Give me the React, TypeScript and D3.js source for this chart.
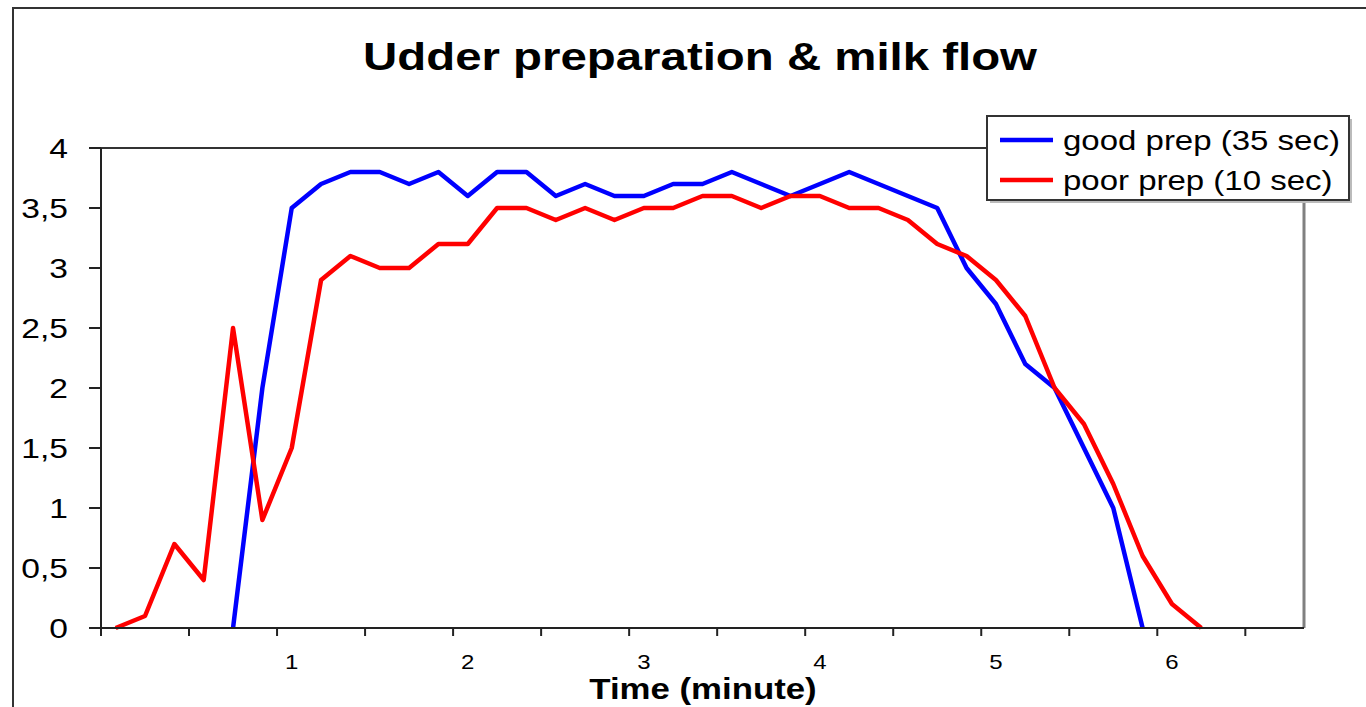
import React from 'react'
import * as d3 from 'd3'

// one category every 10 seconds
const seconds = [
  0, 10, 20, 30, 40, 50, 60, 70, 80, 90, 100, 110, 120, 130, 140, 150, 160, 170, 180, 190, 200,
  210, 220, 230, 240, 250, 260, 270, 280, 290, 300, 310, 320, 330, 340, 350, 360, 370, 380, 390, 400
]

// milk flow, good prep (35 sec)
const goodPrep = [
  null, null, null, null, 0, 2.0, 3.5, 3.7, 3.8, 3.8, 3.7, 3.8, 3.6, 3.8, 3.8, 3.6, 3.7, 3.6, 3.6, 3.7, 3.7,
  3.8, 3.7, 3.6, 3.7, 3.8, 3.7, 3.6, 3.5, 3.0, 2.7, 2.2, 2.0, 1.5, 1.0, 0, null, null, null, null, null
]

// milk flow, poor prep (10 sec)
const poorPrep = [
  0, 0.1, 0.7, 0.4, 2.5, 0.9, 1.5, 2.9, 3.1, 3.0, 3.0, 3.2, 3.2, 3.5, 3.5, 3.4, 3.5, 3.4, 3.5, 3.5, 3.6,
  3.6, 3.5, 3.6, 3.6, 3.5, 3.5, 3.4, 3.2, 3.1, 2.9, 2.6, 2.0, 1.7, 1.2, 0.6, 0.2, 0, null, null, null
]

const minuteLabels = ['1', '2', '3', '4', '5', '6']
const yTicks = [0, 0.5, 1, 1.5, 2, 2.5, 3, 3.5, 4]

const seriesNames = ['good prep (35 sec)', 'poor prep (10 sec)']
const seriesColors = ['#0000ff', '#ff0000']

const font = '"Liberation Sans", Arial, sans-serif'
const sx = 1.2 // the original picture is stretched sideways

const commaLocale = d3.formatLocale({decimal: ',', thousands: '.', grouping: [3], currency: ['', '']})
const fmt = commaLocale.format('~')

export default function App() {
  const width = 1366
  const height = 707
  const left = 101
  const right = 1304
  const top = 148
  const bottom = 628

  const x = d3.scaleBand<number>().domain(seconds).range([left, right]).padding(0)
  const y = d3.scaleLinear().domain([0, 4]).range([bottom, top])
  const cx = (s: number) => (x(s) as number) + x.bandwidth() / 2

  const line = d3
    .line<[number, number | null]>()
    .defined(d => d[1] != null)
    .x(d => cx(d[0]))
    .y(d => y(d[1] as number))

  const series = [goodPrep, poorPrep]
  const xTicks = seconds.filter((s, i) => i % 3 === 0)

  const txt = (tx: number, ty: number) => `translate(${tx},${ty}) scale(${sx},1)`

  return (
    <svg width={width} height={height} style={{position: 'absolute', left: 0, top: 0, background: '#fff'}}>
      {/* outer chart frame */}
      <path d={`M13,${height} V8 H${width}`} fill="none" stroke="#333" strokeWidth={2} />

      <text
        transform={txt(700, 70)}
        textAnchor="middle"
        fontFamily={font}
        fontWeight="bold"
        fontSize={39.5}
        fill="#000"
      >
        Udder preparation &amp; milk flow
      </text>

      {/* plot frame */}
      <line x1={left} x2={right} y1={top} y2={top} stroke="#333" strokeWidth={2} />
      <line x1={right} x2={right} y1={top} y2={bottom} stroke="#808080" strokeWidth={3} />

      {series.map((vals, si) => (
        <path
          key={si}
          d={line(seconds.map((s, i) => [s, vals[i]] as [number, number | null])) || ''}
          fill="none"
          stroke={seriesColors[si]}
          strokeWidth={4.5}
          strokeLinejoin="round"
        />
      ))}

      {/* y axis */}
      <line x1={left} x2={left} y1={top} y2={bottom + 8} stroke="#222" strokeWidth={2} />
      {yTicks.map(t => (
        <g key={t}>
          <line x1={left - 12} x2={left} y1={y(t)} y2={y(t)} stroke="#222" strokeWidth={2} />
          <text transform={txt(68, y(t) + 10)} textAnchor="end" fontFamily={font} fontSize={28} fill="#000">
            {fmt(t)}
          </text>
        </g>
      ))}

      {/* x axis */}
      <line x1={left - 12} x2={right} y1={bottom} y2={bottom} stroke="#222" strokeWidth={2} />
      {xTicks.map(s => (
        <line key={s} x1={x(s)} x2={x(s)} y1={bottom} y2={bottom + 8} stroke="#222" strokeWidth={2} />
      ))}
      {minuteLabels.map((lab, i) => (
        <text key={lab} transform={txt(cx((i + 1) * 60), 669)} textAnchor="middle" fontFamily={font} fontSize={20} fill="#000">
          {lab}
        </text>
      ))}
      <text transform={txt(703, 699)} textAnchor="middle" fontFamily={font} fontWeight="bold" fontSize={29} fill="#000">
        Time (minute)
      </text>

      {/* legend */}
      <rect x={990} y={119} width={362} height={84} fill="#bbb" />
      <rect x={987} y={116} width={362} height={84} fill="#fff" stroke="#333" strokeWidth={2} />
      {seriesNames.map((name, i) => (
        <g key={name}>
          <line x1={1000} x2={1053} y1={140 + i * 40} y2={140 + i * 40} stroke={seriesColors[i]} strokeWidth={4.5} />
          <text transform={txt(1063, 150 + i * 40)} fontFamily={font} fontSize={27.5} fill="#000">
            {name}
          </text>
        </g>
      ))}
    </svg>
  )
}
